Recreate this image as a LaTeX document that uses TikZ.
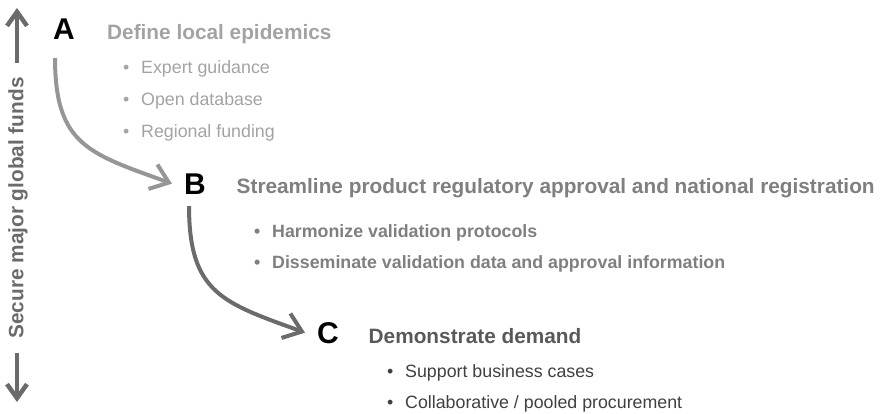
\documentclass[tikz,border=0pt]{standalone}
\usepackage{fontspec}
\setmainfont{Liberation Sans}
\usetikzlibrary{arrows.meta}
\definecolor{greyA}{HTML}{A3A3A3}
\definecolor{greyB}{HTML}{7F7F7F}
\definecolor{greyC}{HTML}{595959}
\definecolor{greyD}{HTML}{404040}
\definecolor{greyL}{HTML}{6B6B6B}
\newcommand{\bul}{\makebox[18pt][l]{\textbullet}}

\begin{document}
\begin{tikzpicture}[x=1pt,y=1pt]
        \tikzset{letter/.style = {anchor=base west,inner sep=0pt,font=\fontsize{30}{36}\selectfont\bfseries}};
        \tikzset{head/.style = {anchor=base west,inner sep=0pt,font=\fontsize{20.8}{25}\selectfont\bfseries}};
        \tikzset{item/.style = {anchor=base west,inner sep=0pt,font=\fontsize{17.8}{21}\selectfont}};
        \tikzset{flow/.style = {-{Straight Barb[length=17pt,width=26pt,line width=4pt]},line width=4pt}};
        \tikzset{axis/.style = {-{Straight Barb[length=14pt,width=20pt,line width=4.5pt]},line width=4.5pt,greyL}};
        \useasboundingbox (0,0) rectangle (887,-413);
        % left axis
        \node[rotate=90,inner xsep=14pt,inner ysep=0pt,text=greyL,font=\fontsize{20.8}{25}\selectfont\bfseries] (fund) at (18,-208) {Secure major global funds};
        \coordinate (up) at (17,-8);
        \coordinate (down) at (17,-402);
        \draw[axis] (fund.east -| up) -- (up);
        \draw[axis] (fund.west -| down) -- (down);
        % A
        \node[letter] (a) at (53,-39) {A};
        \node[head,text=greyA] (ta) at (107,-39) {Define local epidemics};
        \node[item,text=greyA] (a1) at (123,-73) {\bul Expert guidance};
        \node[item,text=greyA] (a2) at (123,-105) {\bul Open database};
        \node[item,text=greyA] (a3) at (123,-137) {\bul Regional funding};
        % B
        \node[letter] (b) at (184,-194) {B};
        \node[head,text=greyB] (tb) at (236.5,-193) {Streamline product regulatory approval and national registration};
        \node[item,text=greyB,font=\fontsize{17.8}{21}\selectfont\bfseries] (b1) at (254,-237) {\bul Harmonize validation protocols};
        \node[item,text=greyB,font=\fontsize{17.8}{21}\selectfont\bfseries] (b2) at (254,-268) {\bul Disseminate validation data and approval information};
        % C
        \node[letter] (c) at (317,-343) {C};
        \node[head,text=greyC] (tc) at (368.5,-343) {Demonstrate demand};
        \node[item,text=greyD] (c1) at (387,-377) {\bul Support business cases};
        \node[item,text=greyD] (c2) at (387,-408) {\bul Collaborative / pooled procurement};
        \draw[flow,color=greyA!92!black] ([shift={(-9,-19)}]a.south) to[out=-90,in=160,looseness=1.3] ([xshift=-12]b.west);
        \draw[flow,color=greyL] ([shift={(-6,-12)}]b.south) to[out=-90,in=160,looseness=1.3] ([xshift=-12]c.west);
\end{tikzpicture}
\end{document}
